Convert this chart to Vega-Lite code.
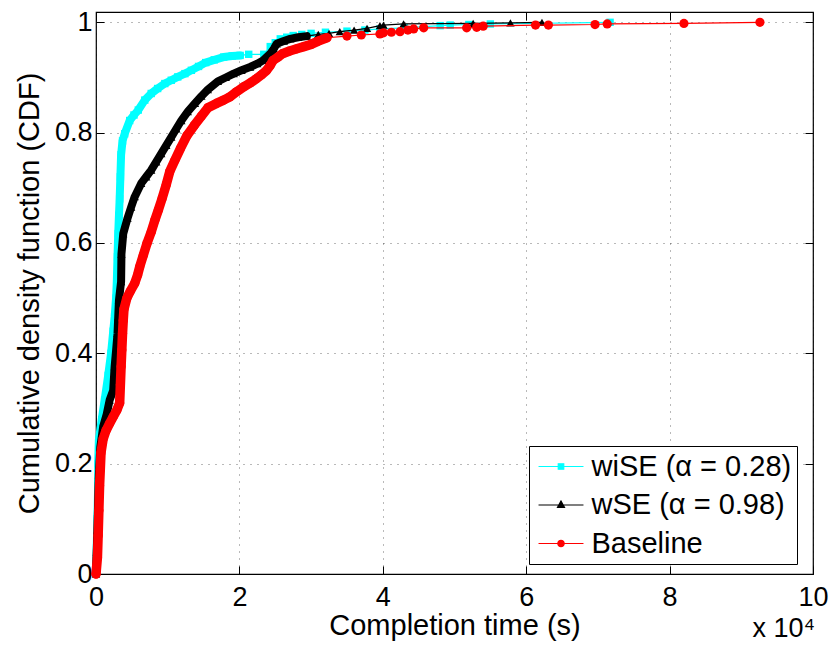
{
  "$schema": "https://vega.github.io/schema/vega-lite/v6.json",
  "width": 717,
  "height": 562,
  "autosize": {"type": "none"},
  "padding": {"left": 96, "top": 12, "right": 16, "bottom": 77},
  "background": "white",
  "title": {"text": "x 10⁴", "orient": "bottom", "anchor": "end", "fontSize": 27, "fontWeight": "normal", "font": "Liberation Sans", "color": "black", "offset": -24, "dx": -13},
  "config": {
    "font": "Liberation Sans",
    "view": {"stroke": "black", "strokeWidth": 1.2},
    "axis": {
      "labelFont": "Liberation Sans", "titleFont": "Liberation Sans",
      "labelFontSize": 27, "titleFontSize": 29, "titleFontWeight": "normal",
      "labelColor": "black", "titleColor": "black",
      "domain": false, "tickColor": "black", "tickWidth": 1,
      "gridColor": "#000000", "gridOpacity": 0.55, "gridDash": [1, 6], "gridWidth": 1
    },
    "legend": {"labelFont": "Liberation Sans"}
  },
  "data": {"values": [
    {"series": "wiSE (α = 0.28)", "t": 0, "p": 0},
    {"series": "wiSE (α = 0.28)", "t": 0.01, "p": 0.05},
    {"series": "wiSE (α = 0.28)", "t": 0.02, "p": 0.1},
    {"series": "wiSE (α = 0.28)", "t": 0.03, "p": 0.16},
    {"series": "wiSE (α = 0.28)", "t": 0.03, "p": 0.2},
    {"series": "wiSE (α = 0.28)", "t": 0.04, "p": 0.243},
    {"series": "wiSE (α = 0.28)", "t": 0.08, "p": 0.28},
    {"series": "wiSE (α = 0.28)", "t": 0.12, "p": 0.315},
    {"series": "wiSE (α = 0.28)", "t": 0.17, "p": 0.36},
    {"series": "wiSE (α = 0.28)", "t": 0.21, "p": 0.4},
    {"series": "wiSE (α = 0.28)", "t": 0.24, "p": 0.44},
    {"series": "wiSE (α = 0.28)", "t": 0.26, "p": 0.466},
    {"series": "wiSE (α = 0.28)", "t": 0.28, "p": 0.5},
    {"series": "wiSE (α = 0.28)", "t": 0.29, "p": 0.53},
    {"series": "wiSE (α = 0.28)", "t": 0.3, "p": 0.575},
    {"series": "wiSE (α = 0.28)", "t": 0.31, "p": 0.617},
    {"series": "wiSE (α = 0.28)", "t": 0.32, "p": 0.65},
    {"series": "wiSE (α = 0.28)", "t": 0.33, "p": 0.68},
    {"series": "wiSE (α = 0.28)", "t": 0.34, "p": 0.72},
    {"series": "wiSE (α = 0.28)", "t": 0.35, "p": 0.76},
    {"series": "wiSE (α = 0.28)", "t": 0.37, "p": 0.785},
    {"series": "wiSE (α = 0.28)", "t": 0.4, "p": 0.798},
    {"series": "wiSE (α = 0.28)", "t": 0.47, "p": 0.822},
    {"series": "wiSE (α = 0.28)", "t": 0.53, "p": 0.832},
    {"series": "wiSE (α = 0.28)", "t": 0.59, "p": 0.841},
    {"series": "wiSE (α = 0.28)", "t": 0.68, "p": 0.859},
    {"series": "wiSE (α = 0.28)", "t": 0.77, "p": 0.871},
    {"series": "wiSE (α = 0.28)", "t": 0.86, "p": 0.88},
    {"series": "wiSE (α = 0.28)", "t": 0.96, "p": 0.889},
    {"series": "wiSE (α = 0.28)", "t": 1.05, "p": 0.895},
    {"series": "wiSE (α = 0.28)", "t": 1.14, "p": 0.901},
    {"series": "wiSE (α = 0.28)", "t": 1.24, "p": 0.907},
    {"series": "wiSE (α = 0.28)", "t": 1.33, "p": 0.913},
    {"series": "wiSE (α = 0.28)", "t": 1.43, "p": 0.92},
    {"series": "wiSE (α = 0.28)", "t": 1.53, "p": 0.927},
    {"series": "wiSE (α = 0.28)", "t": 1.65, "p": 0.932},
    {"series": "wiSE (α = 0.28)", "t": 1.78, "p": 0.937},
    {"series": "wiSE (α = 0.28)", "t": 1.9, "p": 0.939},
    {"series": "wiSE (α = 0.28)", "t": 2.01, "p": 0.94},
    {"series": "wiSE (α = 0.28)", "t": 2.13, "p": 0.942},
    {"series": "wiSE (α = 0.28)", "t": 2.34, "p": 0.942},
    {"series": "wiSE (α = 0.28)", "t": 2.43, "p": 0.956},
    {"series": "wiSE (α = 0.28)", "t": 2.5, "p": 0.963},
    {"series": "wiSE (α = 0.28)", "t": 2.57, "p": 0.97},
    {"series": "wiSE (α = 0.28)", "t": 2.66, "p": 0.973},
    {"series": "wiSE (α = 0.28)", "t": 2.75, "p": 0.976},
    {"series": "wiSE (α = 0.28)", "t": 2.87, "p": 0.978},
    {"series": "wiSE (α = 0.28)", "t": 3.0, "p": 0.98},
    {"series": "wiSE (α = 0.28)", "t": 3.2, "p": 0.982},
    {"series": "wiSE (α = 0.28)", "t": 3.5, "p": 0.984},
    {"series": "wiSE (α = 0.28)", "t": 3.75, "p": 0.986},
    {"series": "wiSE (α = 0.28)", "t": 3.96, "p": 0.988},
    {"series": "wiSE (α = 0.28)", "t": 4.3, "p": 0.99},
    {"series": "wiSE (α = 0.28)", "t": 4.8, "p": 0.994},
    {"series": "wiSE (α = 0.28)", "t": 4.94, "p": 0.995},
    {"series": "wiSE (α = 0.28)", "t": 5.2, "p": 0.996},
    {"series": "wiSE (α = 0.28)", "t": 5.5, "p": 0.997},
    {"series": "wiSE (α = 0.28)", "t": 7.17, "p": 1.0},
    {"series": "wSE (α = 0.98)", "t": 0, "p": 0},
    {"series": "wSE (α = 0.98)", "t": 0.01, "p": 0.04},
    {"series": "wSE (α = 0.98)", "t": 0.02, "p": 0.08},
    {"series": "wSE (α = 0.98)", "t": 0.03, "p": 0.13},
    {"series": "wSE (α = 0.98)", "t": 0.04, "p": 0.18},
    {"series": "wSE (α = 0.98)", "t": 0.06, "p": 0.23},
    {"series": "wSE (α = 0.98)", "t": 0.1, "p": 0.267},
    {"series": "wSE (α = 0.98)", "t": 0.15, "p": 0.29},
    {"series": "wSE (α = 0.98)", "t": 0.19, "p": 0.315},
    {"series": "wSE (α = 0.98)", "t": 0.24, "p": 0.333},
    {"series": "wSE (α = 0.98)", "t": 0.26, "p": 0.376},
    {"series": "wSE (α = 0.98)", "t": 0.28, "p": 0.405},
    {"series": "wSE (α = 0.98)", "t": 0.3, "p": 0.436},
    {"series": "wSE (α = 0.98)", "t": 0.31, "p": 0.466},
    {"series": "wSE (α = 0.98)", "t": 0.32, "p": 0.496},
    {"series": "wSE (α = 0.98)", "t": 0.35, "p": 0.53},
    {"series": "wSE (α = 0.98)", "t": 0.355, "p": 0.58},
    {"series": "wSE (α = 0.98)", "t": 0.38, "p": 0.617},
    {"series": "wSE (α = 0.98)", "t": 0.44, "p": 0.645},
    {"series": "wSE (α = 0.98)", "t": 0.49, "p": 0.665},
    {"series": "wSE (α = 0.98)", "t": 0.54, "p": 0.684},
    {"series": "wSE (α = 0.98)", "t": 0.63, "p": 0.708},
    {"series": "wSE (α = 0.98)", "t": 0.7, "p": 0.72},
    {"series": "wSE (α = 0.98)", "t": 0.77, "p": 0.732},
    {"series": "wSE (α = 0.98)", "t": 0.84, "p": 0.747},
    {"series": "wSE (α = 0.98)", "t": 0.91, "p": 0.762},
    {"series": "wSE (α = 0.98)", "t": 0.98, "p": 0.777},
    {"series": "wSE (α = 0.98)", "t": 1.05, "p": 0.792},
    {"series": "wSE (α = 0.98)", "t": 1.12, "p": 0.807},
    {"series": "wSE (α = 0.98)", "t": 1.19, "p": 0.822},
    {"series": "wSE (α = 0.98)", "t": 1.28, "p": 0.838},
    {"series": "wSE (α = 0.98)", "t": 1.38, "p": 0.853},
    {"series": "wSE (α = 0.98)", "t": 1.47, "p": 0.866},
    {"series": "wSE (α = 0.98)", "t": 1.56, "p": 0.878},
    {"series": "wSE (α = 0.98)", "t": 1.7, "p": 0.893},
    {"series": "wSE (α = 0.98)", "t": 1.81, "p": 0.9},
    {"series": "wSE (α = 0.98)", "t": 1.92, "p": 0.907},
    {"series": "wSE (α = 0.98)", "t": 2.03, "p": 0.913},
    {"series": "wSE (α = 0.98)", "t": 2.15, "p": 0.919},
    {"series": "wSE (α = 0.98)", "t": 2.25, "p": 0.925},
    {"series": "wSE (α = 0.98)", "t": 2.33, "p": 0.931},
    {"series": "wSE (α = 0.98)", "t": 2.43, "p": 0.943},
    {"series": "wSE (α = 0.98)", "t": 2.48, "p": 0.952},
    {"series": "wSE (α = 0.98)", "t": 2.52, "p": 0.961},
    {"series": "wSE (α = 0.98)", "t": 2.62, "p": 0.966},
    {"series": "wSE (α = 0.98)", "t": 2.71, "p": 0.97},
    {"series": "wSE (α = 0.98)", "t": 2.82, "p": 0.973},
    {"series": "wSE (α = 0.98)", "t": 2.94, "p": 0.975},
    {"series": "wSE (α = 0.98)", "t": 3.1, "p": 0.978},
    {"series": "wSE (α = 0.98)", "t": 3.25, "p": 0.98},
    {"series": "wSE (α = 0.98)", "t": 3.4, "p": 0.983},
    {"series": "wSE (α = 0.98)", "t": 3.6, "p": 0.986},
    {"series": "wSE (α = 0.98)", "t": 3.78, "p": 0.989},
    {"series": "wSE (α = 0.98)", "t": 3.96, "p": 0.994},
    {"series": "wSE (α = 0.98)", "t": 4.01, "p": 0.995},
    {"series": "wSE (α = 0.98)", "t": 4.29, "p": 0.997},
    {"series": "wSE (α = 0.98)", "t": 5.26, "p": 0.998},
    {"series": "wSE (α = 0.98)", "t": 5.78, "p": 0.999},
    {"series": "wSE (α = 0.98)", "t": 6.22, "p": 1.0},
    {"series": "Baseline", "t": 0, "p": 0},
    {"series": "Baseline", "t": 0.02, "p": 0.03},
    {"series": "Baseline", "t": 0.03, "p": 0.07},
    {"series": "Baseline", "t": 0.04, "p": 0.115},
    {"series": "Baseline", "t": 0.05, "p": 0.16},
    {"series": "Baseline", "t": 0.06, "p": 0.19},
    {"series": "Baseline", "t": 0.07, "p": 0.22},
    {"series": "Baseline", "t": 0.1, "p": 0.245},
    {"series": "Baseline", "t": 0.14, "p": 0.26},
    {"series": "Baseline", "t": 0.19, "p": 0.273},
    {"series": "Baseline", "t": 0.24, "p": 0.285},
    {"series": "Baseline", "t": 0.29, "p": 0.297},
    {"series": "Baseline", "t": 0.33, "p": 0.31},
    {"series": "Baseline", "t": 0.34, "p": 0.343},
    {"series": "Baseline", "t": 0.35, "p": 0.376},
    {"series": "Baseline", "t": 0.36, "p": 0.406},
    {"series": "Baseline", "t": 0.37, "p": 0.436},
    {"series": "Baseline", "t": 0.38, "p": 0.46},
    {"series": "Baseline", "t": 0.39, "p": 0.48},
    {"series": "Baseline", "t": 0.43, "p": 0.5},
    {"series": "Baseline", "t": 0.48, "p": 0.513},
    {"series": "Baseline", "t": 0.54, "p": 0.527},
    {"series": "Baseline", "t": 0.58, "p": 0.542},
    {"series": "Baseline", "t": 0.61, "p": 0.557},
    {"series": "Baseline", "t": 0.66, "p": 0.578},
    {"series": "Baseline", "t": 0.71, "p": 0.599},
    {"series": "Baseline", "t": 0.77, "p": 0.62},
    {"series": "Baseline", "t": 0.82, "p": 0.641},
    {"series": "Baseline", "t": 0.87, "p": 0.66},
    {"series": "Baseline", "t": 0.92, "p": 0.68},
    {"series": "Baseline", "t": 0.98, "p": 0.706},
    {"series": "Baseline", "t": 1.03, "p": 0.73},
    {"series": "Baseline", "t": 1.1, "p": 0.75},
    {"series": "Baseline", "t": 1.18, "p": 0.772},
    {"series": "Baseline", "t": 1.27, "p": 0.795},
    {"series": "Baseline", "t": 1.37, "p": 0.813},
    {"series": "Baseline", "t": 1.47, "p": 0.83},
    {"series": "Baseline", "t": 1.56, "p": 0.845},
    {"series": "Baseline", "t": 1.68, "p": 0.853},
    {"series": "Baseline", "t": 1.78, "p": 0.859},
    {"series": "Baseline", "t": 1.87, "p": 0.865},
    {"series": "Baseline", "t": 1.96, "p": 0.874},
    {"series": "Baseline", "t": 2.06, "p": 0.883},
    {"series": "Baseline", "t": 2.15, "p": 0.89},
    {"series": "Baseline", "t": 2.24, "p": 0.898},
    {"series": "Baseline", "t": 2.31, "p": 0.905},
    {"series": "Baseline", "t": 2.38, "p": 0.913},
    {"series": "Baseline", "t": 2.43, "p": 0.922},
    {"series": "Baseline", "t": 2.47, "p": 0.931},
    {"series": "Baseline", "t": 2.54, "p": 0.937},
    {"series": "Baseline", "t": 2.6, "p": 0.943},
    {"series": "Baseline", "t": 2.7, "p": 0.948},
    {"series": "Baseline", "t": 2.8, "p": 0.952},
    {"series": "Baseline", "t": 2.9, "p": 0.956},
    {"series": "Baseline", "t": 3.0, "p": 0.96},
    {"series": "Baseline", "t": 3.1, "p": 0.966},
    {"series": "Baseline", "t": 3.22, "p": 0.972},
    {"series": "Baseline", "t": 3.5, "p": 0.975},
    {"series": "Baseline", "t": 3.7, "p": 0.977},
    {"series": "Baseline", "t": 3.96, "p": 0.979},
    {"series": "Baseline", "t": 4.01, "p": 0.981},
    {"series": "Baseline", "t": 4.12, "p": 0.982},
    {"series": "Baseline", "t": 4.24, "p": 0.983},
    {"series": "Baseline", "t": 4.35, "p": 0.986},
    {"series": "Baseline", "t": 4.43, "p": 0.988},
    {"series": "Baseline", "t": 4.57, "p": 0.99},
    {"series": "Baseline", "t": 5.17, "p": 0.99},
    {"series": "Baseline", "t": 5.31, "p": 0.991},
    {"series": "Baseline", "t": 5.4, "p": 0.993},
    {"series": "Baseline", "t": 6.13, "p": 0.995},
    {"series": "Baseline", "t": 6.31, "p": 0.995},
    {"series": "Baseline", "t": 6.96, "p": 0.996},
    {"series": "Baseline", "t": 7.13, "p": 0.997},
    {"series": "Baseline", "t": 8.2, "p": 0.998},
    {"series": "Baseline", "t": 9.26, "p": 1.0}
  ]},
  "resolve": {"axis": {"x": "independent", "y": "independent"}},
  "layer": [
    {
      "transform": [{"filter": "datum.series === 'wiSE (α = 0.28)'"}],
      "encoding": {
        "x": {"field": "t", "type": "quantitative", "scale": {"domain": [0, 10], "nice": false, "zero": false},
              "axis": {"values": [0, 2, 4, 6, 8, 10], "format": "d", "title": "Completion time (s)", "grid": true, "tickSize": -8, "labelPadding": 18, "titlePadding": 1, "orient": "bottom", "labelFlush": false}},
        "y": {"field": "p", "type": "quantitative", "scale": {"domain": [0, 1.0187], "nice": false, "zero": false},
              "axis": {"values": [0, 0.2, 0.4, 0.6, 0.8, 1], "format": "~g", "title": "Cumulative density function (CDF)", "grid": true, "tickSize": -8, "labelPadding": 12, "titlePadding": 10, "orient": "left"}}
      },
      "layer": [
        {"transform": [{"filter": "datum.t <= 2.01"}], "mark": {"type": "line", "color": "#00FFFF", "strokeWidth": 8, "strokeCap": "round", "strokeJoin": "round"}},
        {"mark": {"type": "line", "strokeWidth": 1.2},
         "encoding": {"color": {"field": "series", "type": "nominal",
            "scale": {"domain": ["wiSE (α = 0.28)", "wSE (α = 0.98)", "Baseline"], "range": ["#00FFFF", "#000000", "#FF0000"]},
            "legend": {"orient": "none", "legendX": 433, "legendY": 434, "title": null,
               "fillColor": "white", "strokeColor": "black", "padding": 5, "rowPadding": 7.5,
               "labelFontSize": 29, "labelColor": "black", "labelOffset": 15, "symbolSize": 841, "symbolOffset": 11.5,
               "symbolStrokeWidth": 1.2, "labelLimit": 400,
               "encode": {"symbols": {"update": {
                 "shape": {"signal": "datum.value === 'Baseline' ? 'M-1.55,0H1.55M-0.22,0A0.22,0.22,0,1,0,0.22,0A0.22,0.22,0,1,0,-0.22,0Z' : (datum.value === 'wSE (α = 0.98)' ? 'M-1.55,0H1.55M0,-0.27L0.24,0.16L-0.24,0.16Z' : 'M-1.55,0H1.55M-0.19,-0.19H0.19V0.19H-0.19Z')"},
                 "fill": {"signal": "scale('color', datum.value)"},
                 "fillOpacity": {"value": 1},
                 "stroke": {"signal": "scale('color', datum.value)"},
                 "opacity": {"value": 1}
               }}}
            }}}},
        {"mark": {"type": "point", "shape": "square", "filled": true, "size": 55, "color": "#00FFFF", "opacity": 1}}
      ]
    },
    {
      "transform": [{"filter": "datum.series === 'wSE (α = 0.98)'"}],
      "encoding": {
        "x": {"field": "t", "type": "quantitative", "scale": {"domain": [0, 10], "nice": false, "zero": false},
              "axis": {"values": [0, 2, 4, 6, 8, 10], "orient": "top", "labels": false, "grid": false, "title": null, "tickSize": -8}},
        "y": {"field": "p", "type": "quantitative", "scale": {"domain": [0, 1.0187], "nice": false, "zero": false},
              "axis": {"values": [0, 0.2, 0.4, 0.6, 0.8, 1], "orient": "right", "labels": false, "grid": false, "title": null, "tickSize": -8}}
      },
      "layer": [
        {"transform": [{"filter": "datum.t <= 3.0"}], "mark": {"type": "line", "color": "#000000", "strokeWidth": 8, "strokeCap": "round", "strokeJoin": "round"}},
        {"mark": {"type": "line", "strokeWidth": 1.2}, "encoding": {"color": {"field": "series", "type": "nominal"}}},
        {"mark": {"type": "point", "shape": "triangle-up", "filled": true, "size": 70, "color": "#000000", "opacity": 1}}
      ]
    },
    {
      "transform": [{"filter": "datum.series === 'Baseline'"}],
      "encoding": {
        "x": {"field": "t", "type": "quantitative", "scale": {"domain": [0, 10], "nice": false, "zero": false}, "axis": null},
        "y": {"field": "p", "type": "quantitative", "scale": {"domain": [0, 1.0187], "nice": false, "zero": false}, "axis": null}
      },
      "layer": [
        {"transform": [{"filter": "datum.t <= 3.22"}], "mark": {"type": "line", "color": "#FF0000", "strokeWidth": 9.5, "strokeCap": "round", "strokeJoin": "round"}},
        {"mark": {"type": "line", "strokeWidth": 1.2}, "encoding": {"color": {"field": "series", "type": "nominal"}}},
        {"mark": {"type": "point", "shape": "circle", "filled": true, "size": 85, "color": "#FF0000", "opacity": 1}}
      ]
    }
  ]
}
